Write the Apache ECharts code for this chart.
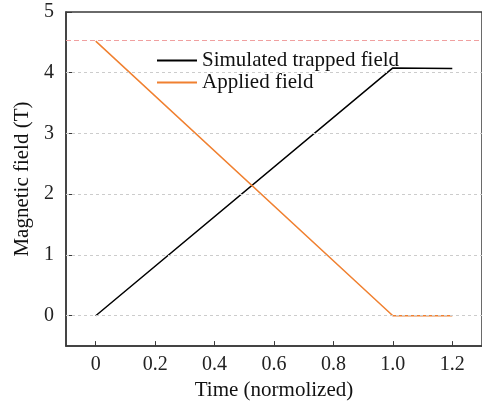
<!DOCTYPE html>
<html><head><meta charset="utf-8">
<script src="https://cdn.jsdelivr.net/npm/echarts@6/dist/echarts.min.js"></script>
<style>html,body{margin:0;padding:0;background:#fff}#c{width:482px;height:406px}</style>
</head><body><div id="c"></div>
<script>
const timeTrapped = [0, 1.0, 1.2];
const trappedField = [0, 4.08, 4.07];
const timeApplied = [0, 1.0, 1.2];
const appliedField = [4.52, 0, 0];
const refLevel = 4.53;
const seriesNames = ['Simulated trapped field', 'Applied field'];
const xLabel = 'Time (normolized)';
const yLabel = 'Magnetic field (T)';
const xTicks = [0, 0.2, 0.4, 0.6, 0.8, 1.0, 1.2];
const yTicks = [0, 1, 2, 3, 4, 5];

const font = 'Liberation Serif';
const chart = echarts.init(document.getElementById('c'));
chart.setOption({
  animation: false,
  grid: {left: 66, right: -2, top: 12, bottom: 58, show: true, borderColor: '#3a3a3a', borderWidth: 1.5, backgroundColor: 'transparent'},
  legend: {
    data: seriesNames, orient: 'vertical', left: 152, top: 45, itemGap: 1,
    itemWidth: 40, itemHeight: 2, icon: 'rect',
    textStyle: {fontFamily: font, fontSize: 21, lineHeight: 21, color: '#111'}
  },
  xAxis: {
    type: 'value', min: -0.1, max: 1.3, interval: 0.1,
    name: xLabel, nameLocation: 'middle', nameGap: 28,
    nameTextStyle: {fontFamily: font, fontSize: 21, color: '#111'},
    axisLine: {onZero: false, lineStyle: {color: '#3a3a3a', width: 1.5}},
    axisTick: {inside: true, length: 5, lineStyle: {color: '#3a3a3a'}, customValues: xTicks},
    axisLabel: {fontFamily: font, fontSize: 20, color: '#222', margin: 9,
      customValues: xTicks,
      formatter: v => Math.abs(v) < 1e-9 ? '0' : v.toFixed(1)},
    splitLine: {show: false}
  },
  yAxis: {
    type: 'value', min: -0.5, max: 5, interval: 0.5,
    name: yLabel, nameLocation: 'middle', nameGap: 31,
    nameTextStyle: {fontFamily: font, fontSize: 21, color: '#111'},
    axisLine: {onZero: false, lineStyle: {color: '#3a3a3a', width: 1.5}},
    axisTick: {inside: true, length: 6, lineStyle: {color: '#3a3a3a'}, customValues: yTicks},
    axisLabel: {fontFamily: font, fontSize: 20, color: '#222', margin: 12, customValues: yTicks},
    splitLine: {show: false}
  },
  series: [
    {
      name: seriesNames[0], type: 'line', symbol: 'none',
      data: timeTrapped.map((t, i) => [t, trappedField[i]]),
      lineStyle: {color: '#000', width: 1.5}, itemStyle: {color: '#000'},
      markLine: {
        silent: true, symbol: 'none', label: {show: false},
        lineStyle: {type: [3, 3], color: '#cccccc', width: 1},
        data: yTicks.slice(0, 5).map(v => ({yAxis: v}))
      },
      z: 3
    },
    {
      name: seriesNames[1], type: 'line', symbol: 'none',
      data: timeApplied.map((t, i) => [t, appliedField[i]]),
      lineStyle: {color: '#f08030', width: 1.5}, itemStyle: {color: '#f08030'},
      markLine: {
        silent: true, symbol: 'none', label: {show: false},
        lineStyle: {type: [5, 3], color: '#f0a0a0', width: 1},
        data: [{yAxis: refLevel}]
      },
      z: 3
    }
  ]
});
</script></body></html>
